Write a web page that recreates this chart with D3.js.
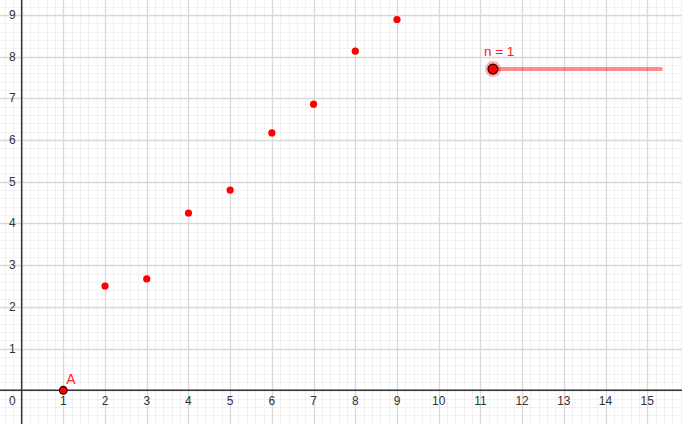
<!DOCTYPE html>
<html><head><meta charset="utf-8">
<script src="https://cdn.jsdelivr.net/npm/d3@7"></script>
<style>html,body{margin:0;padding:0;background:#fff;overflow:hidden}</style>
</head><body>
<svg id="c" width="682" height="424"></svg>
<script>
// Data
const xValues = [1, 2, 3, 4, 5, 6, 7, 8, 9];
const yValues = [0, 2.5, 2.67, 4.25, 4.8, 6.17, 6.86, 8.13, 8.89];
const xTickLabels = [1,2,3,4,5,6,7,8,9,10,11,12,13,14,15];
const yTickLabels = [1,2,3,4,5,6,7,8,9];
const pointLabel = "A";
const sliderLabel = "n = 1";
const sliderRange = [11.3, 15.33];
const sliderY = [7.7];

const W = 682, H = 424;
const x = d3.scaleLinear().domain([-0.518, 15.833]).range([0, W]);
const y = d3.scaleLinear().domain([-0.808, 9.357]).range([H, 0]);

const svg = d3.select("#c");
const g = svg.append("g");

// minor grid
const minorX = d3.range(-0.4, 15.81, 0.2).map(v => +v.toFixed(2)).filter(v => Math.abs(v - Math.round(v)) > 1e-6);
const minorY = d3.range(-0.8, 9.4, 0.2).map(v => +v.toFixed(2)).filter(v => Math.abs(v - Math.round(v)) > 1e-6);
g.selectAll(".mx").data(minorX).join("line")
  .attr("x1", d => Math.round(x(d)) + 0.5).attr("x2", d => Math.round(x(d)) + 0.5)
  .attr("y1", 0).attr("y2", H).attr("stroke", "#f1f1f1").attr("stroke-width", 1);
g.selectAll(".my").data(minorY).join("line")
  .attr("y1", d => Math.round(y(d)) + 0.5).attr("y2", d => Math.round(y(d)) + 0.5)
  .attr("x1", 0).attr("x2", W).attr("stroke", "#f1f1f1").attr("stroke-width", 1);

// major grid
const majorX = d3.range(0, 16);
const majorY = d3.range(0, 10);
g.selectAll(".Mx").data(majorX).join("line")
  .attr("x1", d => Math.round(x(d)) + 0.5).attr("x2", d => Math.round(x(d)) + 0.5)
  .attr("y1", 0).attr("y2", H).attr("stroke", "#d9d9d9").attr("stroke-width", 1.3);
g.selectAll(".My").data(majorY).join("line")
  .attr("y1", d => Math.round(y(d)) + 0.5).attr("y2", d => Math.round(y(d)) + 0.5)
  .attr("x1", 0).attr("x2", W).attr("stroke", "#d9d9d9").attr("stroke-width", 1.3);

// axes
g.append("line").attr("x1", 0).attr("x2", W).attr("y1", y(0)).attr("y2", y(0))
  .attr("stroke", "#333").attr("stroke-width", 1.4);
g.append("line").attr("y1", 0).attr("y2", H).attr("x1", x(0)).attr("x2", x(0))
  .attr("stroke", "#333").attr("stroke-width", 1.4);

const font = "'Liberation Sans', Arial, sans-serif";
// x tick labels
g.selectAll(".xl").data(xTickLabels).join("text")
  .attr("x", d => x(d)).attr("y", y(0) + 15)
  .attr("text-anchor", "middle").attr("font-family", font).attr("font-size", 12)
  .attr("fill", "#333").text(d => d);
// origin label
g.append("text").attr("x", x(0) - 6).attr("y", y(0) + 15)
  .attr("text-anchor", "end").attr("font-family", font).attr("font-size", 12)
  .attr("fill", "#333").text("0");
// y tick labels
g.selectAll(".yl").data(yTickLabels).join("text")
  .attr("x", x(0) - 6).attr("y", d => y(d) + 4)
  .attr("text-anchor", "end").attr("font-family", font).attr("font-size", 12)
  .attr("fill", "#333").text(d => d);

// points
const pts = xValues.map((v, i) => ({x: v, y: yValues[i], i}));
g.selectAll(".pt").data(pts.slice(1)).join("circle")
  .attr("cx", d => x(d.x)).attr("cy", d => y(d.y)).attr("r", 3.6)
  .attr("fill", "#ff0000");
// point A
g.append("circle").attr("cx", x(pts[0].x)).attr("cy", y(pts[0].y)).attr("r", 3.8)
  .attr("fill", "#ff0000").attr("stroke", "#3a0000").attr("stroke-width", 1.3);
g.append("text").attr("x", x(pts[0].x) + 3).attr("y", y(pts[0].y) - 6)
  .attr("font-family", font).attr("font-size", 14).attr("fill", "#ff2020").text(pointLabel);

// slider
g.append("line").attr("x1", x(sliderRange[0])).attr("x2", x(sliderRange[1]))
  .attr("y1", y(sliderY[0])).attr("y2", y(sliderY[0]))
  .attr("stroke", "#ff0000").attr("stroke-opacity", 0.45).attr("stroke-width", 4)
  .attr("stroke-linecap", "round");
g.append("circle").attr("cx", x(sliderRange[0])).attr("cy", y(sliderY[0])).attr("r", 8)
  .attr("fill", "#ff0000").attr("fill-opacity", 0.3);
g.append("circle").attr("cx", x(sliderRange[0])).attr("cy", y(sliderY[0])).attr("r", 4.8)
  .attr("fill", "#ff0000").attr("stroke", "#3a0000").attr("stroke-width", 1.5);
g.append("text").attr("x", x(sliderRange[0]) - 9).attr("y", y(sliderY[0]) - 13)
  .attr("font-family", font).attr("font-size", 13.5).attr("fill", "#ff2020").text(sliderLabel);
</script>
</body></html>
